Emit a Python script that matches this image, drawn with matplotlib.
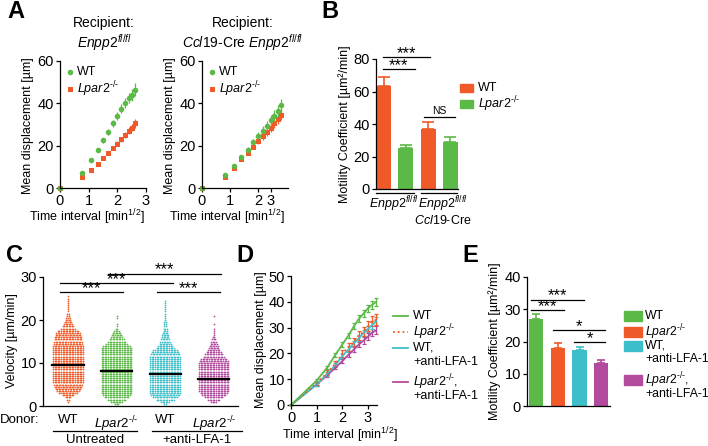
import numpy as np
import matplotlib
matplotlib.use('Agg')
import matplotlib.pyplot as plt
from matplotlib.patches import Rectangle
from matplotlib.lines import Line2D

plt.rcParams['font.family'] = ['Liberation Sans', 'DejaVu Sans']
plt.rcParams['mathtext.fontset'] = 'custom'
plt.rcParams['mathtext.rm'] = 'Liberation Sans'
plt.rcParams['mathtext.it'] = 'Liberation Sans:italic'
plt.rcParams['font.size'] = 9
plt.rcParams['axes.linewidth'] = 0.9
for a in ('xtick', 'ytick'):
    plt.rcParams[a + '.major.size'] = 3
    plt.rcParams[a + '.major.width'] = 0.9
    plt.rcParams[a + '.major.pad'] = 1.5
    plt.rcParams[a + '.labelsize'] = 10.5

ORANGE = '#F05A28'
GREEN = '#5BB947'
CYAN = '#3DBFC9'
MAGENTA = '#B24A9E'

KO = r'$\mathit{Lpar2}^{\text{-/-}}$'
ENPP = r'$\mathit{Enpp2}^{\mathit{fl/fl}}$'
TIME = r'Time interval [min$^{1/2}$]'

# ---- data -------------------------------------------------------------
# A, left recipient (Enpp2 fl/fl)
a_t_left = [0, 0.75, 1.07, 1.31, 1.51, 1.69, 1.85, 2.0, 2.14, 2.26, 2.39, 2.5, 2.62]
a_wt_left = [0, 7, 13, 18, 22.5, 26.5, 30.5, 34, 37.5, 40, 42.5, 44, 46.5]
a_wt_left_err = [0, 0.6, 0.8, 1.0, 1.3, 1.5, 1.7, 1.9, 2.1, 2.3, 2.5, 2.8, 3.2]
a_ko_left = [0, 5, 8.5, 11.5, 14, 16.5, 19, 21, 23, 25, 27, 28.5, 30.5]
a_ko_left_err = [0, 0.4, 0.5, 0.6, 0.7, 0.8, 1.0, 1.1, 1.3, 1.5, 1.6, 1.8, 2.0]
# A, right recipient (Ccl19-Cre Enpp2 fl/fl)
a_t_right = [0, 0.82, 1.15, 1.41, 1.63, 1.83, 2.0, 2.16, 2.31, 2.45, 2.58, 2.71, 2.83]
a_wt_right = [0, 6, 10.5, 14.5, 18, 21.5, 24.5, 27, 29.5, 32, 34, 36.5, 39]
a_wt_right_err = [0, 0.6, 0.8, 1.0, 1.3, 1.6, 1.9, 2.1, 2.3, 2.5, 2.7, 2.9, 3.2]
a_ko_right = [0, 5, 9.5, 13.5, 16.5, 19.5, 22, 24.5, 26.5, 28.5, 30.5, 32.5, 34.5]
a_ko_right_err = [0, 0.5, 0.6, 0.8, 1.0, 1.2, 1.4, 1.6, 1.8, 2.0, 2.2, 2.4, 2.6]

# B, motility coefficient
b_wt = [63.5, 37]
b_wt_err = [5.5, 4]
b_ko = [25, 29]
b_ko_err = [2.3, 3]

# C, velocity scatter: dot counts per 0.5 um/min row (0.5 ... 26.0)
c_bins = np.arange(0.5, 26.01, 0.5)
c_wt = [0, 1, 2, 4, 8, 12, 15, 17, 18, 19,
        20, 20, 20, 20, 20, 20, 20, 20, 20, 20, 20, 20, 20, 20, 20, 20, 20, 20,
        19, 19, 18, 18, 17, 16, 14, 10, 8, 6, 5, 4, 3, 2, 2, 1, 1, 1, 1, 1, 1, 1, 1, 0]
c_ko = [3, 8, 12, 16, 18,
        20, 20, 20, 20, 20, 20, 20, 20, 20, 20, 20, 20, 20, 20, 20, 20, 20, 20, 20, 20, 20, 20,
        18, 14, 12, 10, 8, 7, 6, 4, 2, 1, 1, 0, 0, 1, 1,
        0, 0, 0, 0, 0, 0, 0, 0, 0, 0]
c_wt_lfa = [2, 6, 12, 16, 19,
            20, 20, 20, 20, 20, 20, 20, 20, 20, 20, 20, 20, 20, 20, 20, 20, 20, 20,
            19, 18, 16, 12, 10, 8, 7, 6, 5, 5, 4, 3, 3, 2, 2, 2, 1, 1, 1, 1, 1, 1, 1, 1, 1, 1,
            0, 0, 0]
c_ko_lfa = [0, 4, 8, 12, 16, 18,
            20, 20, 20, 20, 20, 20, 20, 20, 20, 20, 20, 20, 20, 20,
            19, 17, 14, 12, 10, 8, 7, 6, 5, 4, 3, 2, 1, 1, 1, 1, 0, 1, 0, 0, 0, 1,
            0, 0, 0, 0, 0, 0, 0, 0, 0, 0]
c_means = [9.6, 8.2, 7.4, 6.3]

# D, mean displacement with LFA-1 blocking
d_t = [0, 1.0, 1.41, 1.73, 2.0, 2.24, 2.45, 2.65, 2.83, 3.0, 3.16, 3.32]
d_wt = [0, 9.5, 14.5, 19.5, 23.5, 27, 30.5, 33.5, 35.5, 37.5, 38.8, 40]
d_wt_err = [0, 0.5, 0.7, 0.8, 0.9, 1.0, 1.1, 1.2, 1.3, 1.4, 1.5, 1.6]
d_ko = [0, 8.5, 12.5, 16, 20, 22.5, 24.5, 27, 28.5, 30.5, 32.5, 33]
d_ko_err = [0, 0.6, 0.9, 1.1, 1.3, 1.5, 1.6, 1.7, 1.8, 1.9, 2.0, 2.1]
d_wt_lfa = [0, 8, 12, 15.5, 19, 21.5, 24, 26, 28, 29.5, 31, 32.5]
d_wt_lfa_err = [0, 0.5, 0.6, 0.7, 0.8, 0.9, 1.0, 1.1, 1.2, 1.3, 1.4, 1.5]
d_ko_lfa = [0, 8, 11.5, 14.5, 17, 19.5, 21.5, 23.5, 25, 26.5, 28, 29]
d_ko_lfa_err = [0, 0.5, 0.6, 0.7, 0.8, 0.9, 1.0, 1.1, 1.2, 1.3, 1.4, 1.5]

# E, motility coefficient with LFA-1 blocking
e_vals = [27, 18, 17.3, 13.2]
e_err = [1.6, 1.6, 0.9, 1.0]

# ---- figure -----------------------------------------------------------
W, H = 708, 446
fig = plt.figure(figsize=(W / 100, H / 100), dpi=100)


def px_ax(l, t, r, b):
    ax = fig.add_axes([l / W, 1 - b / H, (r - l) / W, (b - t) / H])
    ax.spines[['top', 'right']].set_visible(False)
    ax.set_facecolor('none')
    return ax


def ftext(x, y, s, **kw):
    kw.setdefault('ha', 'center')
    kw.setdefault('va', 'center')
    return fig.text(x / W, 1 - y / H, s, **kw)


def fig_patch(x, y, w, h, color):
    fig.patches.append(Rectangle((x / W, 1 - (y + h / 2) / H), w / W, h / H,
                                 transform=fig.transFigure, color=color))


def fig_line(x0, x1, y, **kw):
    fig.lines.append(Line2D([x0 / W, x1 / W], [1 - y / H, 1 - y / H],
                            transform=fig.transFigure, **kw))


def fig_marker(x, y, **kw):
    fig.lines.append(Line2D([x / W], [1 - y / H], transform=fig.transFigure,
                            linestyle='none', **kw))


def sig(ax, x0, x1, y, label, dy):
    ax.plot([x0, x1], [y, y], color='k', lw=0.9, clip_on=False)
    ax.text((x0 + x1) / 2, y + dy, label, ha='center', va='center',
            fontsize=12, clip_on=False)


# panel letters
for letter, x, y in [('A', 7, 11), ('B', 321, 11), ('C', 6, 255), ('D', 236, 255), ('E', 462, 255)]:
    ftext(x, y, letter, ha='left', fontsize=17, fontweight='bold')

# ---- A ----
for (l, r, t_, wt, wte, ko, koe, xmax, center, lab_x, title2, leg_x) in [
        (60, 146, a_t_left, a_wt_left, a_wt_left_err, a_ko_left, a_ko_left_err, 3.0, 104, 87, ENPP, 70),
        (202, 288, a_t_right, a_wt_right, a_wt_right_err, a_ko_right, a_ko_right_err, 3.07, 243, 227,
         r'$\mathit{Ccl19}$-Cre ' + ENPP, 212)]:
    ax = px_ax(l, 61, r, 188)
    ax.errorbar(t_, ko, yerr=koe, fmt='s', color=ORANGE, ms=3.6, mew=0,
                elinewidth=0.9, capsize=2, capthick=0.9, clip_on=False)
    ax.errorbar(t_, wt, yerr=wte, fmt='o', color=GREEN, ms=4, mew=0,
                elinewidth=0.9, capsize=2, capthick=0.9, clip_on=False)
    ax.set_xlim(0, xmax)
    ax.set_ylim(0, 60)
    ax.set_yticks([0, 20, 40, 60])
    if xmax == 3.0:
        ax.set_xticks([0, 1, 2, 3])
    else:
        ax.set_xticks([0, 1, 2, 2.45])
        ax.set_xticklabels(['0', '1', '2', '3'])
    ftext(center, 23, 'Recipient:', fontsize=10)
    ftext(center, 43, title2, fontsize=10)
    ftext(lab_x, 217, TIME)
    ftext(l - 32, 126, 'Mean displacement [µm]', rotation=90)
    fig_marker(leg_x, 72, marker='o', color=GREEN, ms=4, mew=0)
    fig_marker(leg_x, 89, marker='s', color=ORANGE, ms=3.6, mew=0)
    ftext(leg_x + 7, 72, 'WT', ha='left')
    ftext(leg_x + 7, 89, KO, ha='left')

# ---- B ----
ax = px_ax(376, 59, 458, 189)
bw = 0.68
ax.bar([0, 2], b_wt, bw, color=ORANGE, yerr=[[0, 0], b_wt_err],
       error_kw=dict(ecolor=ORANGE, elinewidth=1.2, capsize=4, capthick=1.2))
ax.bar([1, 3], b_ko, bw, color=GREEN, yerr=[[0, 0], b_ko_err],
       error_kw=dict(ecolor=GREEN, elinewidth=1.2, capsize=4, capthick=1.2))
ax.set_xlim(-0.36, 3.36)
ax.set_ylim(0, 80)
ax.set_yticks([0, 20, 40, 60, 80])
ax.set_xticks([])
sig(ax, -0.05, 2.1, 81.4, '***', 2.2)
sig(ax, -0.05, 1.4, 73.6, '***', 2.2)
ax.plot([1.82, 3.23], [44.3, 44.3], color='k', lw=0.9)
ax.text(2.5, 47.8, 'NS', ha='center', va='center', fontsize=7.5)
ax.plot([-0.36, 1.36], [-2.6, -2.6], color='k', lw=0.9, clip_on=False)
ax.plot([1.7, 3.3], [-2.6, -2.6], color='k', lw=0.9, clip_on=False)
ftext(394, 204, ENPP)
ftext(443, 204, ENPP)
ftext(443, 220, r'$\mathit{Ccl19}$-Cre')
ftext(345, 124, 'Motility Coefficient [µm²/min]', rotation=90)
fig_patch(460, 88, 13, 8, ORANGE)
fig_patch(460, 104, 13, 8, GREEN)
ftext(478, 88, 'WT', ha='left')
ftext(478, 104, KO, ha='left')

# ---- C ----
ax = px_ax(43, 277, 238, 406)
dx = 0.032
for i, (counts, color) in enumerate([(c_wt, ORANGE), (c_ko, GREEN),
                                     (c_wt_lfa, CYAN), (c_ko_lfa, MAGENTA)]):
    xs, ys = [], []
    for v, n in zip(c_bins, counts):
        off = (np.arange(n) - (n - 1) / 2) * dx
        xs.extend(i + off)
        ys.extend([v] * n)
    ax.scatter(xs, ys, s=1.6, color=color, linewidths=0)
    ax.plot([i - 0.32, i + 0.32], [c_means[i], c_means[i]], color='k', lw=1.6)
ax.set_xlim(-0.515, 3.5)
ax.set_ylim(0, 30)
ax.set_yticks([0, 10, 20, 30])
ax.set_xticks([0, 1, 2, 3])
ax.set_xticklabels(['WT', KO, 'WT', KO], fontsize=9.5)
ax.tick_params(axis='x', length=0, pad=6)
sig(ax, -0.16, 1.13, 26.4, '***', 0.9)
sig(ax, -0.16, 2.16, 28.6, '***', 0.9)
sig(ax, 0.82, 3.15, 30.8, '***', 0.9)
sig(ax, 1.84, 3.13, 26.4, '***', 0.9)
ax.plot([-0.3, 1.42], [-5.8, -5.8], color='k', lw=0.9, clip_on=False)
ax.plot([1.73, 3.58], [-5.8, -5.8], color='k', lw=0.9, clip_on=False)
ax.text(0.56, -7.9, 'Untreated', ha='center', va='center', fontsize=9.5)
ax.text(2.65, -7.9, '+anti-LFA-1', ha='center', va='center', fontsize=9.5)
ftext(0, 420, 'Donor:', ha='left', fontsize=9.5)
ftext(12, 341, 'Velocity [µm/min]', rotation=90)

# ---- D ----
ax = px_ax(291, 276, 377, 405)
ek = dict(elinewidth=0.9, capsize=1.5, capthick=0.9, clip_on=False)
ax.errorbar(d_t, d_ko_lfa, yerr=d_ko_lfa_err, color=MAGENTA, lw=1.3, **ek)
ax.errorbar(d_t, d_wt_lfa, yerr=d_wt_lfa_err, color=CYAN, lw=1.3, **ek)
ax.errorbar(d_t, d_ko, yerr=d_ko_err, color=ORANGE, lw=1.3, ls=':', **ek)
ax.errorbar(d_t, d_wt, yerr=d_wt_err, color=GREEN, lw=1.3, **ek)
ax.set_xlim(0, 3.35)
ax.set_ylim(0, 50)
ax.set_xticks([0, 1, 2, 3])
ax.set_yticks([0, 10, 20, 30, 40, 50])
ftext(340, 435, TIME)
ftext(261, 340, 'Mean displacement [µm]', rotation=90)
fig_line(393, 408, 316, color=GREEN, lw=1.3)
fig_line(393, 408, 332, color=ORANGE, lw=1.3, ls=':')
fig_line(393, 408, 348, color=CYAN, lw=1.3)
fig_line(393, 408, 382, color=MAGENTA, lw=1.3)
ftext(413, 316, 'WT', ha='left')
ftext(413, 332, KO, ha='left')
ftext(413, 348, 'WT,', ha='left')
ftext(413, 362, '+anti-LFA-1', ha='left')
ftext(413, 382, r'$\mathit{Lpar2}^{\text{-/-}}$,', ha='left')
ftext(413, 396, '+anti-LFA-1', ha='left')

# ---- E ----
ax = px_ax(527, 277, 610, 406)
e_colors = [GREEN, ORANGE, CYAN, MAGENTA]
for i in range(4):
    ax.bar(i, e_vals[i], 0.65, color=e_colors[i], yerr=[[0], [e_err[i]]],
           error_kw=dict(ecolor=e_colors[i], elinewidth=1.2, capsize=3, capthick=1.2))
ax.set_xlim(-0.43, 3.41)
ax.set_ylim(0, 40)
ax.set_yticks([0, 10, 20, 30, 40])
ax.set_xticks([])
sig(ax, -0.25, 2.2, 33, '***', 1.2)
sig(ax, -0.25, 1.3, 29.7, '***', 1.2)
sig(ax, 0.77, 3.2, 23.5, '*', 1.2)
sig(ax, 1.75, 3.2, 19.8, '*', 1.2)
ftext(495, 341, 'Motility Coefficient [µm²/min]', rotation=90)
for y, c in [(316, GREEN), (332, ORANGE), (346, CYAN), (380, MAGENTA)]:
    fig_patch(624, y, 18, 10, c)
lk = dict(ha='left', fontsize=8.8)
ftext(645, 316, 'WT', **lk)
ftext(645, 332, KO, **lk)
ftext(645, 346, 'WT,', **lk)
ftext(645, 359, '+anti-LFA-1', **lk)
ftext(645, 380, r'$\mathit{Lpar2}^{\text{-/-}}$,', **lk)
ftext(645, 394, '+anti-LFA-1', **lk)

fig.savefig('out.png', dpi=100)
